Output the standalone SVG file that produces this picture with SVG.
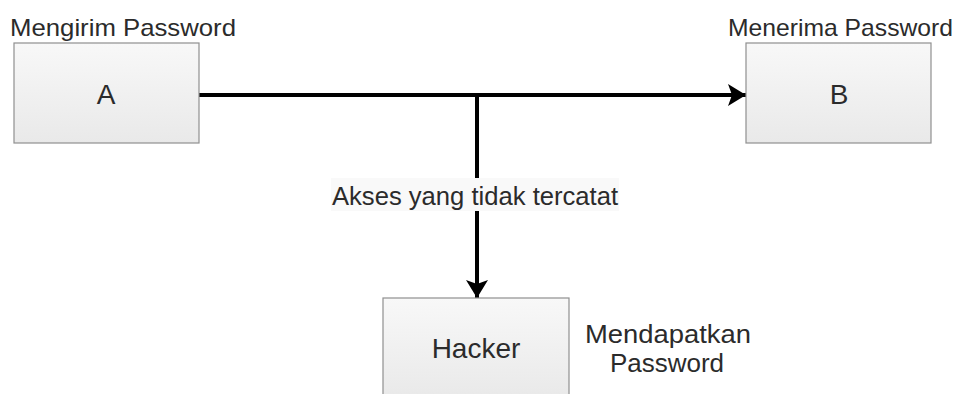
<svg xmlns="http://www.w3.org/2000/svg" width="958" height="394" viewBox="0 0 958 394">
  <defs>
    <linearGradient id="boxFill" x1="0" y1="0" x2="0" y2="1">
      <stop offset="0" stop-color="#f8f8f8"/>
      <stop offset="1" stop-color="#e9e9e9"/>
    </linearGradient>
    <marker id="arrow" viewBox="0 0 18 22" refX="18" refY="11" markerWidth="18" markerHeight="22" markerUnits="userSpaceOnUse" orient="auto">
      <path d="M0,0 L18,11 L0,22 L4,11 Z" fill="#000"/>
    </marker>
    <style>
      .box { fill: url(#boxFill); stroke: #8f8f8f; stroke-width: 1.2; }
      .lbl { font-family: "Liberation Sans", Arial, sans-serif; fill: #2b2b2b; }
      .node { font-size: 28px; text-anchor: middle; }
      .cap { font-size: 24px; }
      .edge { fill: none; stroke: #000; stroke-width: 4; }
    </style>
  </defs>

  <rect width="958" height="394" fill="#ffffff"/>

  <!-- connectors -->
  <g id="connectors">
    <path class="edge" d="M199,95 L746,95" marker-end="url(#arrow)"/>
    <path class="edge" d="M477,95 L477,298" marker-end="url(#arrow)"/>
    <!-- label on the downward branch -->
    <rect x="331" y="178" width="288" height="33" fill="#f9f9f9"/>
    <text class="lbl" x="332" y="205" font-size="25" textLength="286" lengthAdjust="spacingAndGlyphs">Akses yang tidak tercatat</text>
  </g>

  <!-- sender -->
  <g id="node-a">
    <rect class="box" x="14" y="43" width="185" height="100"/>
    <text class="lbl node" x="106" y="104">A</text>
    <text class="lbl cap" x="10" y="36" textLength="226" lengthAdjust="spacingAndGlyphs">Mengirim Password</text>
  </g>

  <!-- receiver -->
  <g id="node-b">
    <rect class="box" x="746" y="43" width="185" height="100"/>
    <text class="lbl node" x="839" y="104">B</text>
    <text class="lbl cap" x="728" y="36" textLength="225" lengthAdjust="spacingAndGlyphs">Menerima Password</text>
  </g>

  <!-- interceptor -->
  <g id="node-hacker">
    <rect class="box" x="383" y="298" width="186" height="100"/>
    <text class="lbl node" x="476" y="358" font-size="27">Hacker</text>
    <text class="lbl" x="585" y="343" font-size="26" textLength="166" lengthAdjust="spacingAndGlyphs">Mendapatkan</text>
    <text class="lbl" x="667" y="372" font-size="26" text-anchor="middle">Password</text>
  </g>
</svg>
